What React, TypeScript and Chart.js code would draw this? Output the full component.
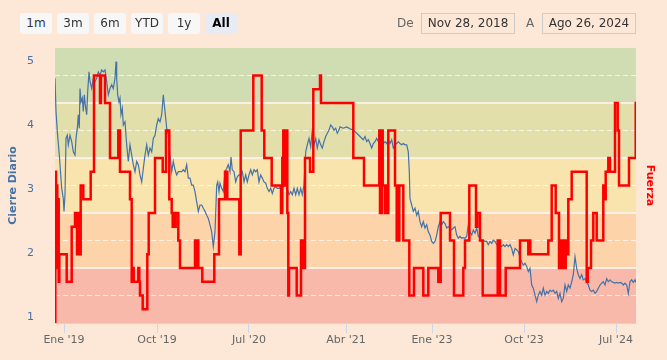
import React, { useEffect, useRef } from 'react';
import { Chart, registerables } from 'chart.js';

Chart.register(...registerables);

const rangeButtons = ['1m', '3m', '6m', 'YTD', '1y', 'All'];
const selectedButton = 'All';
const fromLabel = 'De';
const fromDate = 'Nov 28, 2018';
const toLabel = 'A';
const toDate = 'Ago 26, 2024';

// ordinal (session) index of the labelled x ticks
const xTickIdx = [9, 102, 194, 291, 377, 469, 561];
const xTickLabels = ["Ene '19", "Oct '19", "Jul '20", "Abr '21", "Ene '23", "Oct '23", "Jul '24"];
const xMaxIdx = 581;

const closeTicks = [1, 2, 3, 4, 5];
const closeMin = 0.906;
const closeMax = 5.203;

const fuerzaGrid = [2, 6, 10, 14, 18];
const bandEdges = [0, 4, 8, 12, 16, 20];
const bandColors = ['#f8b9aa', '#fdd3aa', '#f9e4ae', '#e2dfab', '#d0ddb3'];

// [session index, daily close]
const closePoints: [number, number][] = [
  [0, 4.73], [1, 4.21], [2.3, 3.9], [4.3, 3.53], [6.7, 3.01], [8.3, 2.85], [9, 2.65], [10, 2.91],
  [11, 3.79], [12.3, 3.84], [13.3, 3.69], [15, 3.84], [16.7, 3.74], [18.3, 3.58], [20, 3.53], [21, 3.79],
  [22.3, 3.95], [23.3, 4.16], [24.3, 3.95], [25, 4.57], [26, 4.36], [27.3, 4.42], [28.3, 4.21], [29.3, 4.47],
  [30.7, 4.26], [31.7, 4.16], [32.7, 4.52], [34, 4.83], [35, 4.68], [36.7, 4.57], [38.3, 4.73], [40, 4.68],
  [41.7, 4.73], [43.3, 4.83], [45, 4.78], [46.7, 4.86], [48.3, 4.83], [50, 4.86], [51.7, 4.68], [53.3, 4.47],
  [55, 4.57], [56.7, 4.63], [58.3, 4.57], [60, 4.73], [61, 4.99], [61.7, 4.73], [62.7, 4.47], [64, 4.36],
  [65, 4.42], [66, 4.16], [67.3, 4.26], [68.3, 4.0], [70, 4.05], [71.7, 3.69], [73.3, 3.43], [75, 3.69],
  [76.7, 3.53], [78.3, 3.38], [80, 3.27], [81.7, 3.43], [83.3, 3.38], [85, 3.22], [86.7, 3.11], [88.3, 3.32],
  [90, 3.53], [91.7, 3.69], [93.3, 3.53], [95, 3.64], [96.7, 3.58], [98.3, 3.79], [100, 3.84], [101.7, 4.0],
  [103.3, 4.1], [105, 4.05], [106.7, 4.16], [108.3, 4.47], [110, 4.21], [111.7, 3.95], [113.3, 3.84], [115, 3.53],
  [116.7, 3.27], [118.3, 3.43], [120, 3.3], [121.7, 3.22], [123.3, 3.27], [125, 3.27], [126.7, 3.27], [128.3, 3.3],
  [130, 3.27], [131.7, 3.38], [133.3, 3.17], [135, 3.17], [136.7, 3.06], [138.3, 3.06], [140, 2.96], [141.7, 2.8],
  [143.3, 2.65], [145, 2.75], [146.7, 2.75], [148.3, 2.7], [150, 2.65], [151.7, 2.59], [153.3, 2.54], [155, 2.44],
  [156.7, 2.33], [158.3, 2.1], [160, 2.33], [161.7, 3.06], [162.7, 3.11], [164, 2.96], [165, 3.09], [166.7, 3.01],
  [168.3, 2.96], [170, 3.27], [171.7, 3.32], [173.3, 3.38], [175, 3.27], [176, 3.5], [177.3, 3.3], [179, 3.27],
  [180.7, 3.11], [182.3, 3.19], [184, 3.22], [185.7, 3.22], [187.3, 3.27], [189, 3.11], [190.7, 3.22], [192.3, 3.11],
  [194, 3.22], [195.7, 3.3], [197.3, 3.22], [199, 3.3], [200.7, 3.27], [202.3, 3.3], [204, 3.11], [205.7, 3.22],
  [207.3, 3.17], [209, 3.11], [210.7, 3.09], [212.3, 3.01], [214, 2.96], [215.7, 3.01], [217.3, 2.93], [219, 3.01],
  [220.7, 3.04], [222.3, 3.01], [224, 3.01], [225.7, 3.04], [227.3, 3.01], [229, 3.04], [230.7, 3.09], [232.3, 3.01],
  [234, 2.91], [235.7, 2.96], [237.3, 2.91], [239, 3.01], [240.7, 2.91], [242.3, 3.01], [244, 2.91], [245.7, 3.01],
  [247.3, 2.91], [249, 3.06], [250.7, 3.58], [252.3, 3.69], [254, 3.79], [255.7, 3.66], [257.3, 3.92], [259, 3.69],
  [260.7, 3.79], [262.3, 3.64], [264, 3.77], [265.7, 3.69], [267.3, 3.64], [269, 3.74], [270.7, 3.82], [272.3, 3.87],
  [274, 3.92], [275.7, 4.0], [277.3, 3.97], [279, 3.92], [280.7, 3.95], [282.3, 3.87], [284, 3.92], [285, 3.97],
  [288.3, 3.95], [291.7, 3.97], [295, 3.94], [298.3, 3.92], [301.7, 3.87], [305, 3.82], [308.3, 3.77], [310, 3.82],
  [311.7, 3.74], [313.3, 3.77], [315, 3.71], [316.7, 3.64], [318.3, 3.71], [320, 3.74], [321.7, 3.79], [323.3, 3.74],
  [325, 3.71], [326.7, 3.77], [328.3, 3.71], [330, 3.74], [331.7, 3.71], [333.3, 3.77], [335, 3.71], [336.7, 3.77],
  [338.3, 3.64], [340, 3.69], [341.7, 3.71], [343.3, 3.74], [345, 3.71], [346.7, 3.69], [348.3, 3.71], [350, 3.69],
  [351.7, 3.69], [353.3, 3.58], [354.3, 3.27], [355, 2.85], [356.7, 2.75], [358.3, 2.65], [360, 2.7], [361.7, 2.59],
  [363.3, 2.65], [365, 2.49], [366.7, 2.41], [368.3, 2.49], [370, 2.39], [371.7, 2.44], [373.3, 2.33], [375, 2.28],
  [376.7, 2.18], [378.3, 2.15], [380, 2.18], [381.7, 2.28], [383.3, 2.41], [385, 2.49], [386.7, 2.44], [388.3, 2.49],
  [390, 2.46], [391.7, 2.39], [393.3, 2.41], [395, 2.39], [396.7, 2.36], [398.3, 2.39], [400, 2.41], [401.7, 2.28],
  [403.3, 2.23], [405, 2.26], [406.7, 2.23], [408.3, 2.24], [410, 2.23], [411.7, 2.26], [413.3, 2.44], [415, 2.33],
  [416.7, 2.28], [418.3, 2.36], [420, 2.31], [421.7, 2.39], [423.3, 2.26], [425, 2.23], [426.7, 2.18], [428.3, 2.2],
  [430, 2.18], [431.7, 2.18], [433.3, 2.13], [435, 2.18], [436.7, 2.15], [438.3, 2.2], [440, 2.18], [441.7, 2.13],
  [443.3, 2.15], [445, 2.13], [446.7, 2.1], [448.3, 2.13], [450, 2.1], [451.7, 2.13], [453.3, 2.1], [455, 2.13],
  [456.7, 2.07], [458.3, 1.97], [460, 2.07], [461.7, 2.05], [463.3, 2.02], [465, 1.92], [466.7, 1.86], [468.3, 1.81],
  [470, 1.84], [471.7, 1.79], [473.3, 1.71], [475, 1.76], [476.7, 1.5], [478.3, 1.45], [480, 1.34], [481.7, 1.24],
  [483.3, 1.34], [485, 1.4], [486.7, 1.34], [488.3, 1.45], [490, 1.34], [491.7, 1.4], [493.3, 1.37], [495, 1.42],
  [496.7, 1.4], [498.3, 1.42], [500, 1.37], [501.7, 1.4], [503.3, 1.29], [505, 1.37], [506.7, 1.24], [508.3, 1.29],
  [510, 1.5], [511.7, 1.4], [513.3, 1.5], [515, 1.45], [516.7, 1.55], [518.3, 1.66], [520, 1.94], [521.7, 1.76],
  [523.3, 1.66], [525, 1.6], [526.7, 1.66], [528.3, 1.58], [530, 1.6], [531.7, 1.55], [533.3, 1.5], [535, 1.42],
  [536.7, 1.4], [538.3, 1.42], [540, 1.37], [541.7, 1.4], [543.3, 1.45], [545, 1.5], [546.7, 1.53], [548.3, 1.55],
  [550, 1.5], [551.7, 1.6], [553.3, 1.55], [555, 1.58], [556.7, 1.55], [558.3, 1.54], [560, 1.53], [561.7, 1.54],
  [563.3, 1.53], [565, 1.54], [566.7, 1.53], [568.3, 1.5], [570, 1.53], [571.7, 1.5], [573.3, 1.37], [575, 1.55],
  [576.7, 1.58], [578.3, 1.54], [580, 1.58], [581, 1.54],
];

// [session index where the level starts, Fuerza level]
const fuerzaSteps: [number, number][] = [
  [0, 0], [0.3, 11], [1, 4], [1.7, 10], [2.3, 4], [3, 9], [3.7, 3], [4.3, 5], [11.7, 3], [16.7, 7], [20, 8],
  [22, 5], [23, 8], [24, 5], [25.7, 10], [28.3, 9], [35.7, 11], [39, 18], [45, 16], [46, 18], [50, 16], [55, 12],
  [63.3, 14], [65, 11], [75, 9], [76.7, 3], [77.7, 4], [78.7, 3], [83.3, 4], [84.3, 3], [85, 2], [87.7, 1],
  [92.3, 5], [93.7, 8], [100, 12], [107.7, 11], [111, 14], [114.3, 9], [116.7, 8], [117.7, 7], [118.7, 8],
  [119.7, 7], [120.7, 8], [123.3, 6], [125, 4], [140, 6], [141, 4], [142, 6], [143.3, 4], [147.3, 3],
  [159.3, 5], [164, 9], [170, 11], [172.3, 9], [184.3, 5], [185.7, 14], [198.3, 18], [206.7, 14], [209.3, 12],
  [216.7, 10], [226, 8], [227.3, 12], [228.3, 14], [229, 10], [229.7, 14], [230.3, 10], [231, 14], [232.3, 8],
  [233.3, 2], [234, 4], [241.7, 2], [246, 6], [246.7, 4], [247.3, 6], [248.3, 4], [250, 12], [255, 11],
  [258.3, 17], [265, 18], [266, 16], [298.3, 12], [309, 10], [324.3, 14], [325, 8], [325.7, 14], [326.3, 8],
  [327, 14], [327.7, 10], [330, 8], [331, 10], [331.7, 8], [333.3, 14], [340, 10], [341.7, 6], [342.7, 10],
  [343.7, 6], [344.3, 10], [348.3, 6], [354.3, 2], [359, 4], [368.3, 2], [373.3, 4], [383.3, 3], [385.7, 8],
  [395, 6], [399, 2], [408.3, 4], [410, 6], [414.3, 10], [421, 7], [422.3, 8], [425, 6], [427.7, 2],
  [442.7, 6], [445, 2], [450.7, 4], [465, 6], [473.3, 5], [474.3, 6], [475.3, 5], [493.3, 6], [496.7, 10],
  [500.7, 8], [504, 4], [505.3, 6], [506.7, 4], [508, 6], [509.3, 4], [510.7, 6], [511.7, 5], [513.3, 9],
  [516.7, 11], [531.7, 3], [532.7, 4], [536, 6], [538.3, 8], [541.7, 6], [548.3, 10], [549.3, 9], [550.7, 11],
  [553.3, 12], [555, 11], [560, 16], [562.7, 14], [564, 10], [574, 12], [580.7, 16], [581, 16],
];

const FONT = "'DejaVu Sans', sans-serif";
const PAGE_BG = '#fde8d7';
const BLUE = '#4572a7';
const RED = '#ff0000';

export default function App() {
  const canvasRef = useRef<HTMLCanvasElement>(null);

  useEffect(() => {
    if (!canvasRef.current) return;

    const bandPlugin = {
      id: 'fuerzaBands',
      beforeDraw(chart: any) {
        const { ctx, chartArea: a } = chart;
        const s = chart.scales.y2;
        ctx.save();
        for (let i = 0; i < bandColors.length; i++) {
          const yTop = s.getPixelForValue(bandEdges[i + 1]);
          const yBot = s.getPixelForValue(bandEdges[i]);
          ctx.fillStyle = bandColors[i];
          ctx.fillRect(a.left, yTop, a.right - a.left, yBot - yTop);
        }
        ctx.strokeStyle = 'rgba(253,241,234,0.9)';
        ctx.lineWidth = 2;
        for (let i = 1; i < bandEdges.length - 1; i++) {
          const y = s.getPixelForValue(bandEdges[i]);
          ctx.beginPath();
          ctx.moveTo(a.left, y);
          ctx.lineTo(a.right, y);
          ctx.stroke();
        }
        ctx.restore();
      },
    };

    const chart = new Chart(canvasRef.current, {
      type: 'line',
      data: {
        datasets: [
          {
            label: 'Fuerza',
            data: fuerzaSteps.map(([x, y]) => ({ x, y })),
            yAxisID: 'y2',
            borderColor: RED,
            borderWidth: 2.5,
            stepped: 'before',
            pointRadius: 0,
            fill: false,
            order: 0,
          },
          {
            label: 'Cierre Diario',
            data: closePoints.map(([x, y]) => ({ x, y })),
            yAxisID: 'y',
            borderColor: BLUE,
            borderWidth: 1.2,
            pointRadius: 0,
            tension: 0,
            fill: false,
            order: 1,
          },
        ],
      },
      options: {
        responsive: false,
        animation: false,
        events: [],
        layout: { padding: { top: 48, left: 0, right: 0, bottom: 0 } },
        plugins: { legend: { display: false }, tooltip: { enabled: false } },
        scales: {
          x: {
            type: 'linear',
            min: 0,
            max: xMaxIdx,
            afterBuildTicks: (s: any) => {
              s.ticks = xTickIdx.map((v) => ({ value: v }));
            },
            afterFit: (s: any) => {
              s.height = 37;
            },
            ticks: {
              autoSkip: false,
              maxRotation: 0,
              padding: 1,
              color: '#666666',
              font: { family: FONT, size: 11 },
              callback: (_v: any, i: number) => xTickLabels[i],
            },
            grid: { drawOnChartArea: false, color: '#ccd6eb', tickLength: 10 },
            border: { color: '#ccd6eb' },
          },
          y: {
            position: 'left',
            min: closeMin,
            max: closeMax,
            afterBuildTicks: (s: any) => {
              s.ticks = closeTicks.map((v) => ({ value: v }));
            },
            afterFit: (s: any) => {
              s.width = 55;
            },
            grid: { display: false, drawTicks: false },
            border: { display: false },
            ticks: { color: BLUE, padding: 21, font: { family: FONT, size: 11 } },
            title: {
              display: true,
              text: 'Cierre Diario',
              color: BLUE,
              font: { family: FONT, size: 11, weight: 'bold' },
              padding: { top: 7, bottom: 0 },
            },
          },
          y2: {
            position: 'right',
            min: bandEdges[0],
            max: bandEdges[bandEdges.length - 1],
            afterBuildTicks: (s: any) => {
              s.ticks = fuerzaGrid.map((v) => ({ value: v }));
            },
            afterFit: (s: any) => {
              s.width = 31;
            },
            grid: { color: 'rgba(255,255,255,0.7)', drawTicks: false, lineWidth: 1 },
            border: { display: false, dash: [5, 3] },
            ticks: { display: false },
            title: {
              display: true,
              text: 'Fuerza',
              color: RED,
              font: { family: FONT, size: 11, weight: 'bold' },
              padding: { top: 11, bottom: 0 },
            },
          },
        },
      },
      plugins: [bandPlugin],
    } as any);

    return () => chart.destroy();
  }, []);

  const btnStyle = (sel: boolean, i: number): React.CSSProperties => ({
    position: 'absolute',
    left: 20 + i * 37,
    top: 13,
    width: 32,
    height: 21,
    lineHeight: '21px',
    textAlign: 'center',
    background: sel ? '#e6ebf5' : '#f7f7f7',
    borderRadius: 3,
    fontFamily: FONT,
    fontSize: 12,
    fontWeight: sel ? 'bold' : 'normal',
    color: sel ? '#000000' : '#333333',
  });

  const boxStyle = (left: number): React.CSSProperties => ({
    position: 'absolute',
    left,
    top: 13,
    width: 92,
    height: 19,
    lineHeight: '19px',
    border: '1px solid #cccccc',
    textAlign: 'center',
    fontFamily: FONT,
    fontSize: 12,
    color: '#333333',
  });

  const labelStyle = (left: number): React.CSSProperties => ({
    position: 'absolute',
    left,
    top: 13,
    height: 21,
    lineHeight: '21px',
    fontFamily: FONT,
    fontSize: 12,
    color: '#666666',
  });

  return (
    <div
      style={{
        position: 'fixed',
        left: 0,
        top: 0,
        width: 667,
        height: 360,
        background: PAGE_BG,
        overflow: 'hidden',
      }}
    >
      <canvas ref={canvasRef} width={667} height={360} style={{ position: 'absolute', left: 0, top: 0 }} />
      {rangeButtons.map((b, i) => (
        <div key={b} style={btnStyle(b === selectedButton, i)}>
          {b}
        </div>
      ))}
      <div style={labelStyle(397)}>{fromLabel}</div>
      <div style={boxStyle(421)}>{fromDate}</div>
      <div style={labelStyle(526)}>{toLabel}</div>
      <div style={boxStyle(542)}>{toDate}</div>
    </div>
  );
}
